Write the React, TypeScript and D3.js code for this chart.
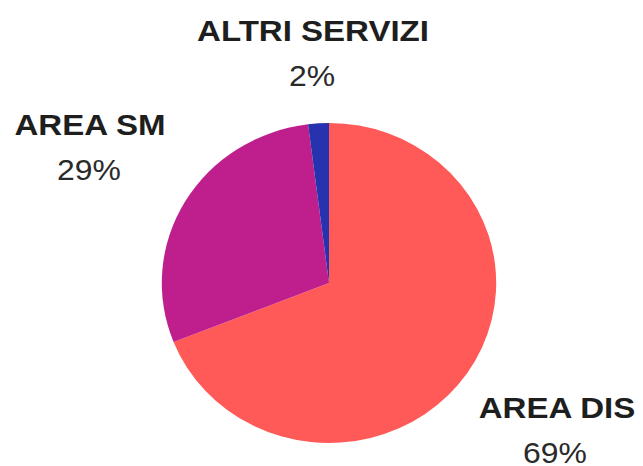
import React, { useEffect, useRef } from "react";
import * as d3 from "d3";

const categories = ["AREA DIS", "AREA SM", "ALTRI SERVIZI"];
const values = [69, 29, 2];
const percentLabels = ["69%", "29%", "2%"];
const colors = ["#FF5A57", "#BE1F8C", "#2733AE"];

const App: React.FC = () => {
  const ref = useRef<SVGSVGElement>(null);

  useEffect(() => {
    const width = 643;
    const height = 466;
    const cx = 329;
    const cy = 283;
    const r = 160;

    const svg = d3.select(ref.current);
    svg.selectAll("*").remove();
    svg.attr("width", width).attr("height", height);

    svg.append("rect").attr("width", width).attr("height", height).attr("fill", "#fff");

    const pie = d3
      .pie<number>()
      .sort(null)
      .value((d) => d);
    const arcs = pie(values);
    const arc = d3.arc<d3.PieArcDatum<number>>().innerRadius(0).outerRadius(r);

    const g = svg
      .append("g")
      .attr("transform", `translate(${cx},${cy}) scale(1.045,1)`);

    g.selectAll("path")
      .data(arcs)
      .enter()
      .append("path")
      .attr("d", arc)
      .attr("fill", (d, i) => colors[i]);

    // label positions (name baseline, value baseline)
    const labelPos = [
      { x: 557, y: 418, x2: 555, y2: 463 },
      { x: 90, y: 135, x2: 89, y2: 180 },
      { x: 313, y: 41, x2: 312, y2: 86 },
    ];

    const labels = svg
      .selectAll("g.label")
      .data(arcs)
      .enter()
      .append("g")
      .attr("class", "label")
      .attr("font-family", "'Liberation Sans', Arial, sans-serif")
      .attr("text-anchor", "middle");

    labels
      .append("text")
      .attr("transform", (d, i) => `translate(${labelPos[i].x},${labelPos[i].y}) scale(1.14,1)`)
      .attr("font-size", 29)
      .attr("font-weight", "bold")
      .attr("fill", "#1e1e1e")
      .text((d, i) => categories[i]);

    labels
      .append("text")
      .attr("transform", (d, i) => `translate(${labelPos[i].x2},${labelPos[i].y2}) scale(1.1,1)`)
      .attr("font-size", 29)
      .attr("fill", "#2a2a2a")
      .text((d, i) => percentLabels[i]);
  }, []);

  return (
    <div style={{ position: "absolute", left: 0, top: 0 }}>
      <svg ref={ref}></svg>
    </div>
  );
};

export default App;
